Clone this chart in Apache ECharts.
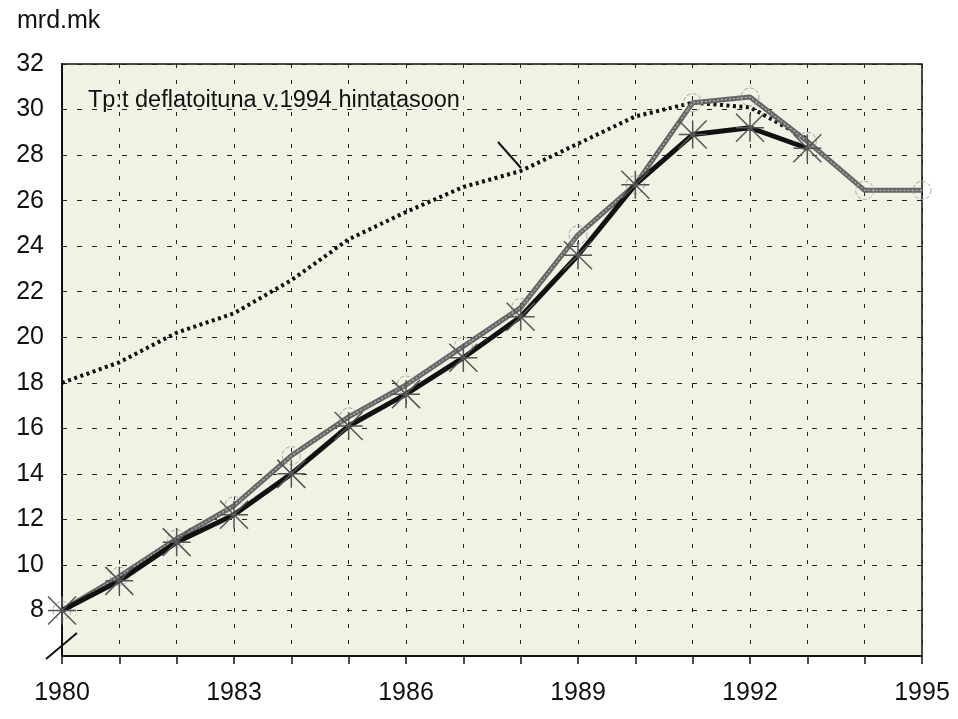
<!DOCTYPE html>
<html>
<head>
<meta charset="utf-8">
<script src="https://cdn.jsdelivr.net/npm/echarts@6/dist/echarts.min.js"></script>
<style>
  html, body { margin: 0; background: #fff; }
  #chart { width: 958px; height: 719px; }
</style>
</head>
<body>
<div id="chart"></div>
<script>
// vuodet ja sarjat (mrd.mk)
const years = [1980, 1981, 1982, 1983, 1984, 1985, 1986, 1987, 1988, 1989, 1990, 1991, 1992, 1993, 1994, 1995];
const deflated = [18.0, 18.9, 20.2, 21.05, 22.5, 24.3, 25.5, 26.6, 27.3, 28.5, 29.7, 30.3, 30.1, 28.7];
const greySeries = [8.0, 9.5, 11.15, 12.6, 14.8, 16.5, 17.9, 19.6, 21.3, 24.5, 26.7, 30.3, 30.55, 28.6, 26.45, 26.45];
const blackSeries = [8.0, 9.3, 11.0, 12.2, 14.0, 16.1, 17.5, 19.1, 20.9, 23.6, 26.7, 28.9, 29.2, 28.3];
const xLabels = [1980, 1983, 1986, 1989, 1992, 1995];
const annotation = 'Tp:t deflatoituna v.1994 hintatasoon';

const pairs = arr => arr.map((v, i) => [years[i], v]);
const FONT = '"Liberation Sans", Arial, sans-serif';
const star = 'path://M0,0L20,20M20,0L0,20M0,10L20,10M10,0L10,20';

const chart = echarts.init(document.getElementById('chart'));

const option = {
  backgroundColor: '#fff',
  animation: false,
  textStyle: { fontFamily: FONT },
  grid: {
    left: 62, right: 36, top: 64, bottom: 63,
    show: true,
    backgroundColor: '#eef3e3',
    borderColor: '#111',
    borderWidth: 1.5,
    outerBoundsMode: 'none'
  },
  xAxis: {
    type: 'value',
    min: 1980, max: 1995, interval: 1,
    axisLine: { show: true, onZero: false, lineStyle: { color: '#111', width: 2 } },
    axisTick: { show: true, length: 8, lineStyle: { color: '#111', width: 1.5 } },
    axisLabel: {
      fontSize: 25, color: '#111', margin: 25, fontFamily: FONT,
      formatter: v => xLabels.includes(v) ? String(v) : ''
    },
    splitLine: { show: true, lineStyle: { color: '#222', width: 1, type: [4, 12] } }
  },
  yAxis: {
    type: 'value',
    min: 6, max: 32, interval: 2,
    axisLine: { show: true, lineStyle: { color: '#111', width: 2 } },
    axisTick: { show: false },
    axisLabel: {
      fontSize: 25, color: '#111', margin: 18, fontFamily: FONT,
      formatter: v => v === 6 ? '' : String(v)
    },
    splitLine: { show: true, lineStyle: { color: '#222', width: 1, type: [5, 10] } }
  },
  series: [
    {
      name: 'deflated',
      type: 'line',
      data: pairs(deflated),
      symbol: 'none',
      lineStyle: { color: '#111', width: 4, type: [3, 3.5] },
      z: 3
    },
    {
      name: 'grey',
      type: 'line',
      data: pairs(greySeries),
      symbol: 'circle',
      symbolSize: 18,
      itemStyle: { color: 'transparent', borderColor: '#a5a5a5', borderWidth: 1, borderType: 'dashed' },
      lineStyle: { color: '#666', width: 5 },
      z: 4
    },
    {
      name: 'greyInner',
      type: 'line',
      data: pairs(greySeries),
      symbol: 'none',
      lineStyle: { color: '#b5b5b5', width: 1.2, type: [2, 2] },
      z: 5
    },
    {
      name: 'black',
      type: 'line',
      data: pairs(blackSeries),
      symbol: star,
      symbolSize: 28,
      itemStyle: { color: 'none', borderColor: '#555', borderWidth: 1.5 },
      lineStyle: { color: '#111', width: 5 },
      z: 6
    }
  ],
  graphic: [
    {
      type: 'text', left: 17, top: 9,
      style: { text: 'mrd.mk', font: '25px ' + FONT, fill: '#111' }
    },
    {
      type: 'text', left: 88, top: 89,
      style: { text: annotation, font: '23.5px ' + FONT, fill: '#111' },
      z: 10
    },
    {
      type: 'line',
      shape: { x1: 498, y1: 142, x2: 521, y2: 168 },
      style: { stroke: '#111', lineWidth: 2 },
      z: 10
    },
    {
      type: 'line',
      shape: { x1: 46, y1: 659, x2: 77, y2: 633 },
      style: { stroke: '#111', lineWidth: 2 },
      z: 10
    }
  ]
};

chart.setOption(option);
</script>
</body>
</html>
